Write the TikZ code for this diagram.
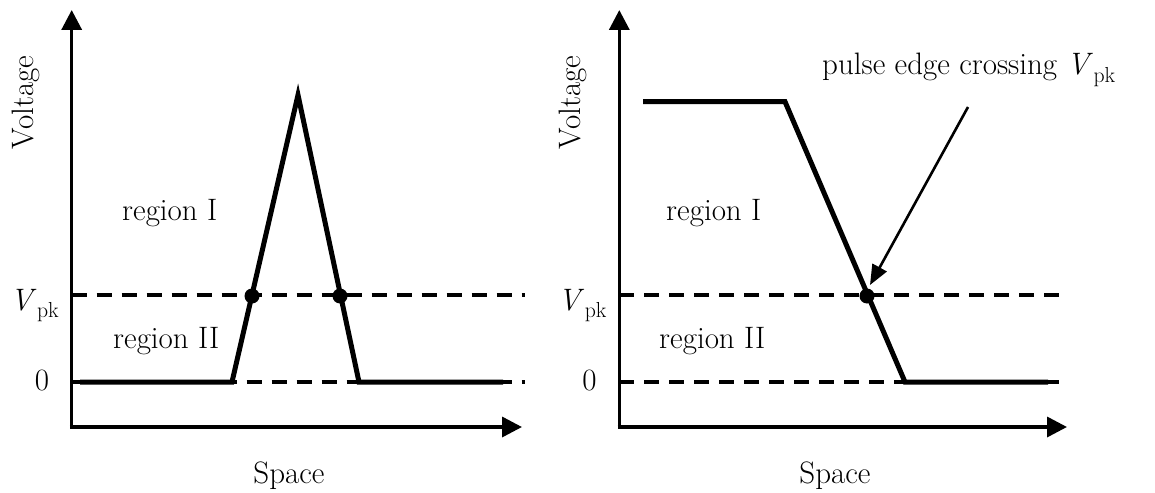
\documentclass[tikz,border=0pt]{standalone}
\usepackage{fontspec}
\usetikzlibrary{arrows.meta}
\newcommand{\Vpk}{\textit{V}\kern0.5pt\raisebox{-0.24em}{\fontsize{21.7}{26}\selectfont pk}}
\tikzset{
  axisline/.style={line width=3.5pt,-{Triangle[length=20pt,width=20pt]}},
  levelline/.style={line width=3.2pt,dash pattern=on 15pt off 10pt},
  pulseline/.style={line width=5pt,line join=miter},
  crossdot/.style={circle,fill=black,inner sep=0pt,minimum size=15pt},
  pointer/.style={line width=2.6pt,-{Triangle[length=20pt,width=16pt]}},
  lbl/.style={inner sep=0pt,font=\fontsize{31}{37}\selectfont},
}
\begin{document}
\begin{tikzpicture}[x=1pt,y=-1pt]
\useasboundingbox (0,0) rectangle (1155,492);
% ---------- left panel ----------
\coordinate (LO) at (71.7,427);
\coordinate (LYt) at (71.7,10);
\coordinate (LXt) at (522,427);
\coordinate (LVa) at (71.7,295);
\coordinate (LVb) at (524.5,295);
\coordinate (LZa) at (71.7,382);
\coordinate (LZb) at (524.5,382);
\coordinate (LP0) at (80,382);
\coordinate (LP1) at (232,382);
\coordinate (LP2) at (298,95);
\coordinate (LP3) at (359,382);
\coordinate (LP4) at (503,382);
\draw[levelline] (LVa) -- (LVb);
\draw[levelline] (LZa) -- (LZb);
\draw[pulseline] (LP0) -- (LP1) -- (LP2) -- (LP3) -- (LP4);
\draw[axisline] (LO) -- (LYt);
\draw[axisline] ([xshift=-1.75pt]LO) -- (LXt);
\node[crossdot] (LD1) at (252,296) {};
\node[crossdot] (LD2) at (340,296) {};
\node[lbl,rotate=90,anchor=base] (LVolt) at (33,102.5) {Voltage};
\node[lbl,anchor=base] (LSpace) at (289,483) {Space};
\node[lbl,anchor=base west] (LVpk) at (10,310) {\Vpk};
\node[lbl,anchor=base] (LZero) at (42,390) {0};
\node[lbl,anchor=base west] (LR1) at (122,220) {region I};
\node[lbl,anchor=base west] (LR2) at (113,348) {region II};
% ---------- right panel ----------
\coordinate (RO) at (619.3,427);
\coordinate (RYt) at (619.3,10);
\coordinate (RXt) at (1067,427);
\coordinate (RVa) at (619.3,295);
\coordinate (RVb) at (1069,295);
\coordinate (RZa) at (619.3,382);
\coordinate (RZb) at (1069,382);
\coordinate (RP0) at (643,101.7);
\coordinate (RP1) at (785,101.7);
\coordinate (RP2) at (905,382);
\coordinate (RP3) at (1048,382);
\coordinate (RA0) at (968,107);
\coordinate (RA1) at (870,285);
\draw[levelline] (RVa) -- (RVb);
\draw[levelline] (RZa) -- (RZb);
\draw[pulseline] (RP0) -- (RP1) -- (RP2) -- (RP3);
\draw[axisline] (RO) -- (RYt);
\draw[axisline] ([xshift=-1.75pt]RO) -- (RXt);
\node[crossdot] (RD) at (867,296) {};
\draw[pointer] (RA0) -- (RA1);
\node[lbl,rotate=90,anchor=base] (RVolt) at (580.6,102.5) {Voltage};
\node[lbl,anchor=base] (RSpace) at (835,483) {Space};
\node[lbl,anchor=base west] (RVpk) at (557.6,310) {\Vpk};
\node[lbl,anchor=base] (RZero) at (589.6,390) {0};
\node[lbl,anchor=base west] (RR1) at (666,220) {region I};
\node[lbl,anchor=base west] (RR2) at (659,348) {region II};
\node[lbl,anchor=base west] (RLab) at (822,75) {pulse edge crossing \Vpk};
\end{tikzpicture}
\end{document}
